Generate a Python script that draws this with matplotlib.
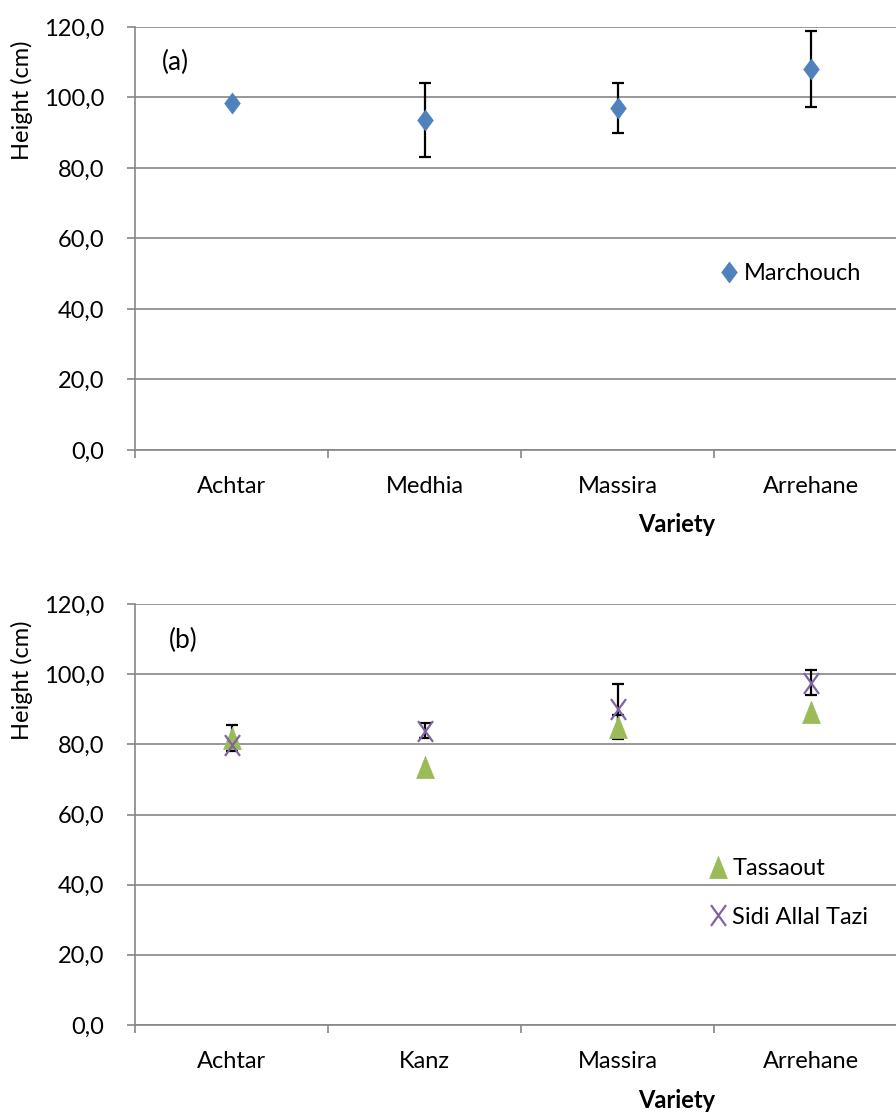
import numpy as np
import matplotlib
matplotlib.use('Agg')
import matplotlib.pyplot as plt
from matplotlib.path import Path

# Panel (a): Marchouch
varieties_a = ['Achtar', 'Medhia', 'Massira', 'Arrehane']
marchouch = [98.5, 93.6, 97.1, 108.1]
marchouch_err = [0.0, 10.5, 7.1, 10.7]

# Panel (b): Tassaout and Sidi Allal Tazi
varieties_b = ['Achtar', 'Kanz', 'Massira', 'Arrehane']
tassaout = [81.8, 73.4, 85.0, 89.3]
tassaout_err = [3.6, 0.0, 3.5, 0.0]
sidi = [79.8, 83.9, 90.0, 97.6]
sidi_err = [0.0, 2.2, 7.3, 3.6]

y_ticks = [0, 20, 40, 60, 80, 100, 120]

plt.rcParams['font.family'] = ['Lato', 'DejaVu Sans']
FS = 17
GRID = '#868686'

diamond = Path([(0, 1), (0.75, 0), (0, -1), (-0.75, 0), (0, 1)],
               [Path.MOVETO, Path.LINETO, Path.LINETO, Path.LINETO, Path.CLOSEPOLY])
triangle = Path([(0, 1), (0.8, -1), (-0.8, -1), (0, 1)],
                [Path.MOVETO, Path.LINETO, Path.LINETO, Path.CLOSEPOLY])
cross = Path([(-0.72, -1), (0.72, 1), (-0.72, 1), (0.72, -1)],
             [Path.MOVETO, Path.LINETO, Path.MOVETO, Path.LINETO])

W, H = 896, 1113
fig = plt.figure(figsize=(W / 100, H / 100), dpi=100)


def make_axes(top_px, bottom_px):
    ax = fig.add_axes([135 / W, 1 - bottom_px / H, 772 / W, (bottom_px - top_px) / H])
    ax.set_xlim(-0.5, 3.5)
    ax.set_ylim(0, 120)
    ax.set_yticks(y_ticks)
    ax.set_yticklabels([f'{v:.1f}'.replace('.', ',') for v in y_ticks], fontsize=FS)
    ax.grid(axis='y', color=GRID, lw=1.2)
    ax.set_axisbelow(True)
    for s in ['top', 'right']:
        ax.spines[s].set_visible(False)
    for s in ['left', 'bottom']:
        ax.spines[s].set_color(GRID)
        ax.spines[s].set_linewidth(1.2)
    ax.tick_params(axis='y', length=6, color=GRID, width=1.2, pad=16)
    ax.set_xticks(np.arange(-0.5, 4, 1), minor=True)
    ax.tick_params(axis='x', which='minor', length=6, color=GRID, width=1.2)
    ax.tick_params(axis='x', which='major', length=0, pad=19)
    return ax


def draw(ax, vals, errs, path, color, ms, mew, label, z):
    x = np.arange(len(vals))
    v = np.array(vals)
    e = np.array(errs)
    m = e > 0
    ax.errorbar(x[m], v[m], yerr=e[m], fmt='none', ecolor='black',
                elinewidth=1.6, capsize=4, capthick=1.6, zorder=2)
    if path is cross:
        line, = ax.plot(x, v, ls='none', marker=path, ms=ms, mfc='none',
                        mec=color, mew=mew, zorder=z, label=label)
    else:
        line, = ax.plot(x, v, ls='none', marker=path, ms=ms, mfc=color,
                        mec=color, mew=0.5, zorder=z, label=label)
    return line


# (a)
ax1 = make_axes(27, 450)
ax1.set_xticks(range(4))
ax1.set_xticklabels(varieties_a, fontsize=FS)
h1 = draw(ax1, marchouch, marchouch_err, diamond, '#4F81BD', 15, 0, 'Marchouch', 3)
ax1.legend(handles=[h1], loc='center left', bbox_to_anchor=((708 - 135) / 772, (450 - 274) / 423),
           frameon=False, fontsize=FS, handlelength=0.8, handletextpad=0.2, borderpad=0)
ax1.text((175 - 135) / 772, (450 - 62) / 423, '(a)', transform=ax1.transAxes,
         fontsize=19, ha='center', va='center')
fig.text(677 / W, 1 - 525 / H, 'Variety', fontsize=FS, fontweight='bold', ha='center', va='center')
fig.text(22 / W, 1 - 100 / H, 'Height (cm)', fontsize=FS, rotation=90, ha='center', va='center')

# (b)
ax2 = make_axes(604, 1025)
ax2.set_xticks(range(4))
ax2.set_xticklabels(varieties_b, fontsize=FS)
h2 = draw(ax2, tassaout, tassaout_err, triangle, '#9BBB59', 16, 0, 'Tassaout', 3)
h3 = draw(ax2, sidi, sidi_err, cross, '#8064A2', 15, 1.6, 'Sidi Allal Tazi', 4)
ax2.legend(handles=[h2, h3], loc='center left',
           bbox_to_anchor=((697 - 135) / 772, (1025 - 893) / 421),
           frameon=False, fontsize=FS, handlelength=0.8, handletextpad=0.2, borderpad=0,
           labelspacing=1.15)
ax2.text((183 - 135) / 772, (1025 - 640) / 421, '(b)', transform=ax2.transAxes,
         fontsize=19, ha='center', va='center')
fig.text(677 / W, 1 - 1100 / H, 'Variety', fontsize=FS, fontweight='bold', ha='center', va='center')
fig.text(22 / W, 1 - 680 / H, 'Height (cm)', fontsize=FS, rotation=90, ha='center', va='center')

fig.savefig('out.png', dpi=100)
plt.close()
